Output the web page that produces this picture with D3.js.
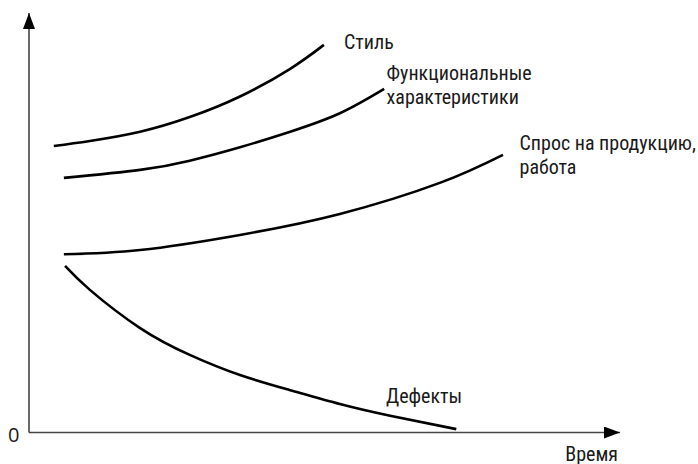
<!DOCTYPE html>
<html>
<head>
<meta charset="utf-8">
<script src="https://cdn.jsdelivr.net/npm/d3@7"></script>
<style>
  body { margin: 0; background: #fff; }
  .lbl { font-family: "Liberation Sans Narrow", "Roboto Condensed", "DejaVu Sans Condensed", sans-serif; font-size: 20px; font-weight: normal; fill: #1a1a1a; }
</style>
</head>
<body>
<svg id="viewer"></svg>
<script>
// curves, in data units (time 0..100, level 0..100)
var stylePts  = [[4.2,68.3],[10.3,69.5],[18.8,71.7],[27.2,75.2],[35.7,80.1],[44.2,86.7],[49.9,92.4]];
var funcPts   = [[5.9,60.7],[18.8,62.6],[27.2,64.8],[35.7,68.0],[44.2,71.7],[52.6,76.1],[60.1,81.9]];
var demandPts = [[5.9,42.5],[18.8,43.5],[35.7,47.1],[52.6,52.1],[69.5,59.5],[80.2,66.2]];
var defectPts = [[6.1,39.7],[10.3,34.0],[18.8,24.9],[27.2,18.5],[35.7,13.7],[44.2,10.1],[52.6,6.8],[61.1,4.0],[72.3,0.8]];

// labels
var labelText = [
  ['Стиль'],
  ['Функциональные','характеристики'],
  ['Спрос на продукцию,','работа'],
  ['Дефекты']
];
var labelAt = [[53.3,91.4],[60.5,84.0],[83.0,67.3],[60.4,7.0]];

var W = 698, H = 464;
var viewer = d3.select('#viewer')
  .attr('width',W)
  .attr('height',H);

var x = d3.scaleLinear().domain([0,100]).range([29,620]);
var y = d3.scaleLinear().domain([0,100]).range([432.5,13]);

// arrow heads
var defs = viewer.append('defs');
defs.append('marker')
  .attr('id','arr')
  .attr('viewBox','0 0 16 12')
  .attr('refX',16).attr('refY',6)
  .attr('markerUnits','userSpaceOnUse')
  .attr('markerWidth',16).attr('markerHeight',12)
  .attr('orient','auto')
  .append('path')
    .attr('d','M0,0L16,6L0,12Z')
    .style('fill','#000');

// axes
viewer.append('line')
  .attr('x1',x(0)).attr('y1',y(0))
  .attr('x2',x(0)).attr('y2',y(100))
  .style('stroke','#444').style('stroke-width',1.6)
  .attr('marker-end','url(#arr)');
viewer.append('line')
  .attr('x1',x(0)).attr('y1',y(0))
  .attr('x2',x(100)).attr('y2',y(0))
  .style('stroke','#444').style('stroke-width',1.6)
  .attr('marker-end','url(#arr)');

viewer.append('text')
  .attr('x',x(0)-21).attr('y',y(0)+9)
  .style('font-family','"Open Sans", "Noto Sans", sans-serif')
  .style('font-size','20px')
  .style('fill','#1a1a1a')
  .text('0');
viewer.append('text')
  .attr('class','lbl')
  .attr('x',x(100)-2).attr('y',y(0)+28)
  .attr('text-anchor','end')
  .text('Время');

// curves
var line = d3.line()
  .x(function(d){return x(d[0]);})
  .y(function(d){return y(d[1]);})
  .curve(d3.curveNatural);

viewer.selectAll('.curve')
  .data([stylePts, funcPts, demandPts, defectPts])
  .enter().append('path')
    .attr('class','curve')
    .attr('d',line)
    .style('fill','none')
    .style('stroke','#000')
    .style('stroke-width',2.6)
    .style('stroke-linecap','butt');

// curve labels
labelText.forEach(function(lines, i){
  var t = viewer.append('text')
    .attr('class','lbl')
    .attr('x',x(labelAt[i][0]))
    .attr('y',y(labelAt[i][1]));
  lines.forEach(function(s, k){
    t.append('tspan')
      .attr('x',x(labelAt[i][0]))
      .attr('dy',k==0 ? 0 : 24)
      .text(s);
  });
});
</script>
</body>
</html>
